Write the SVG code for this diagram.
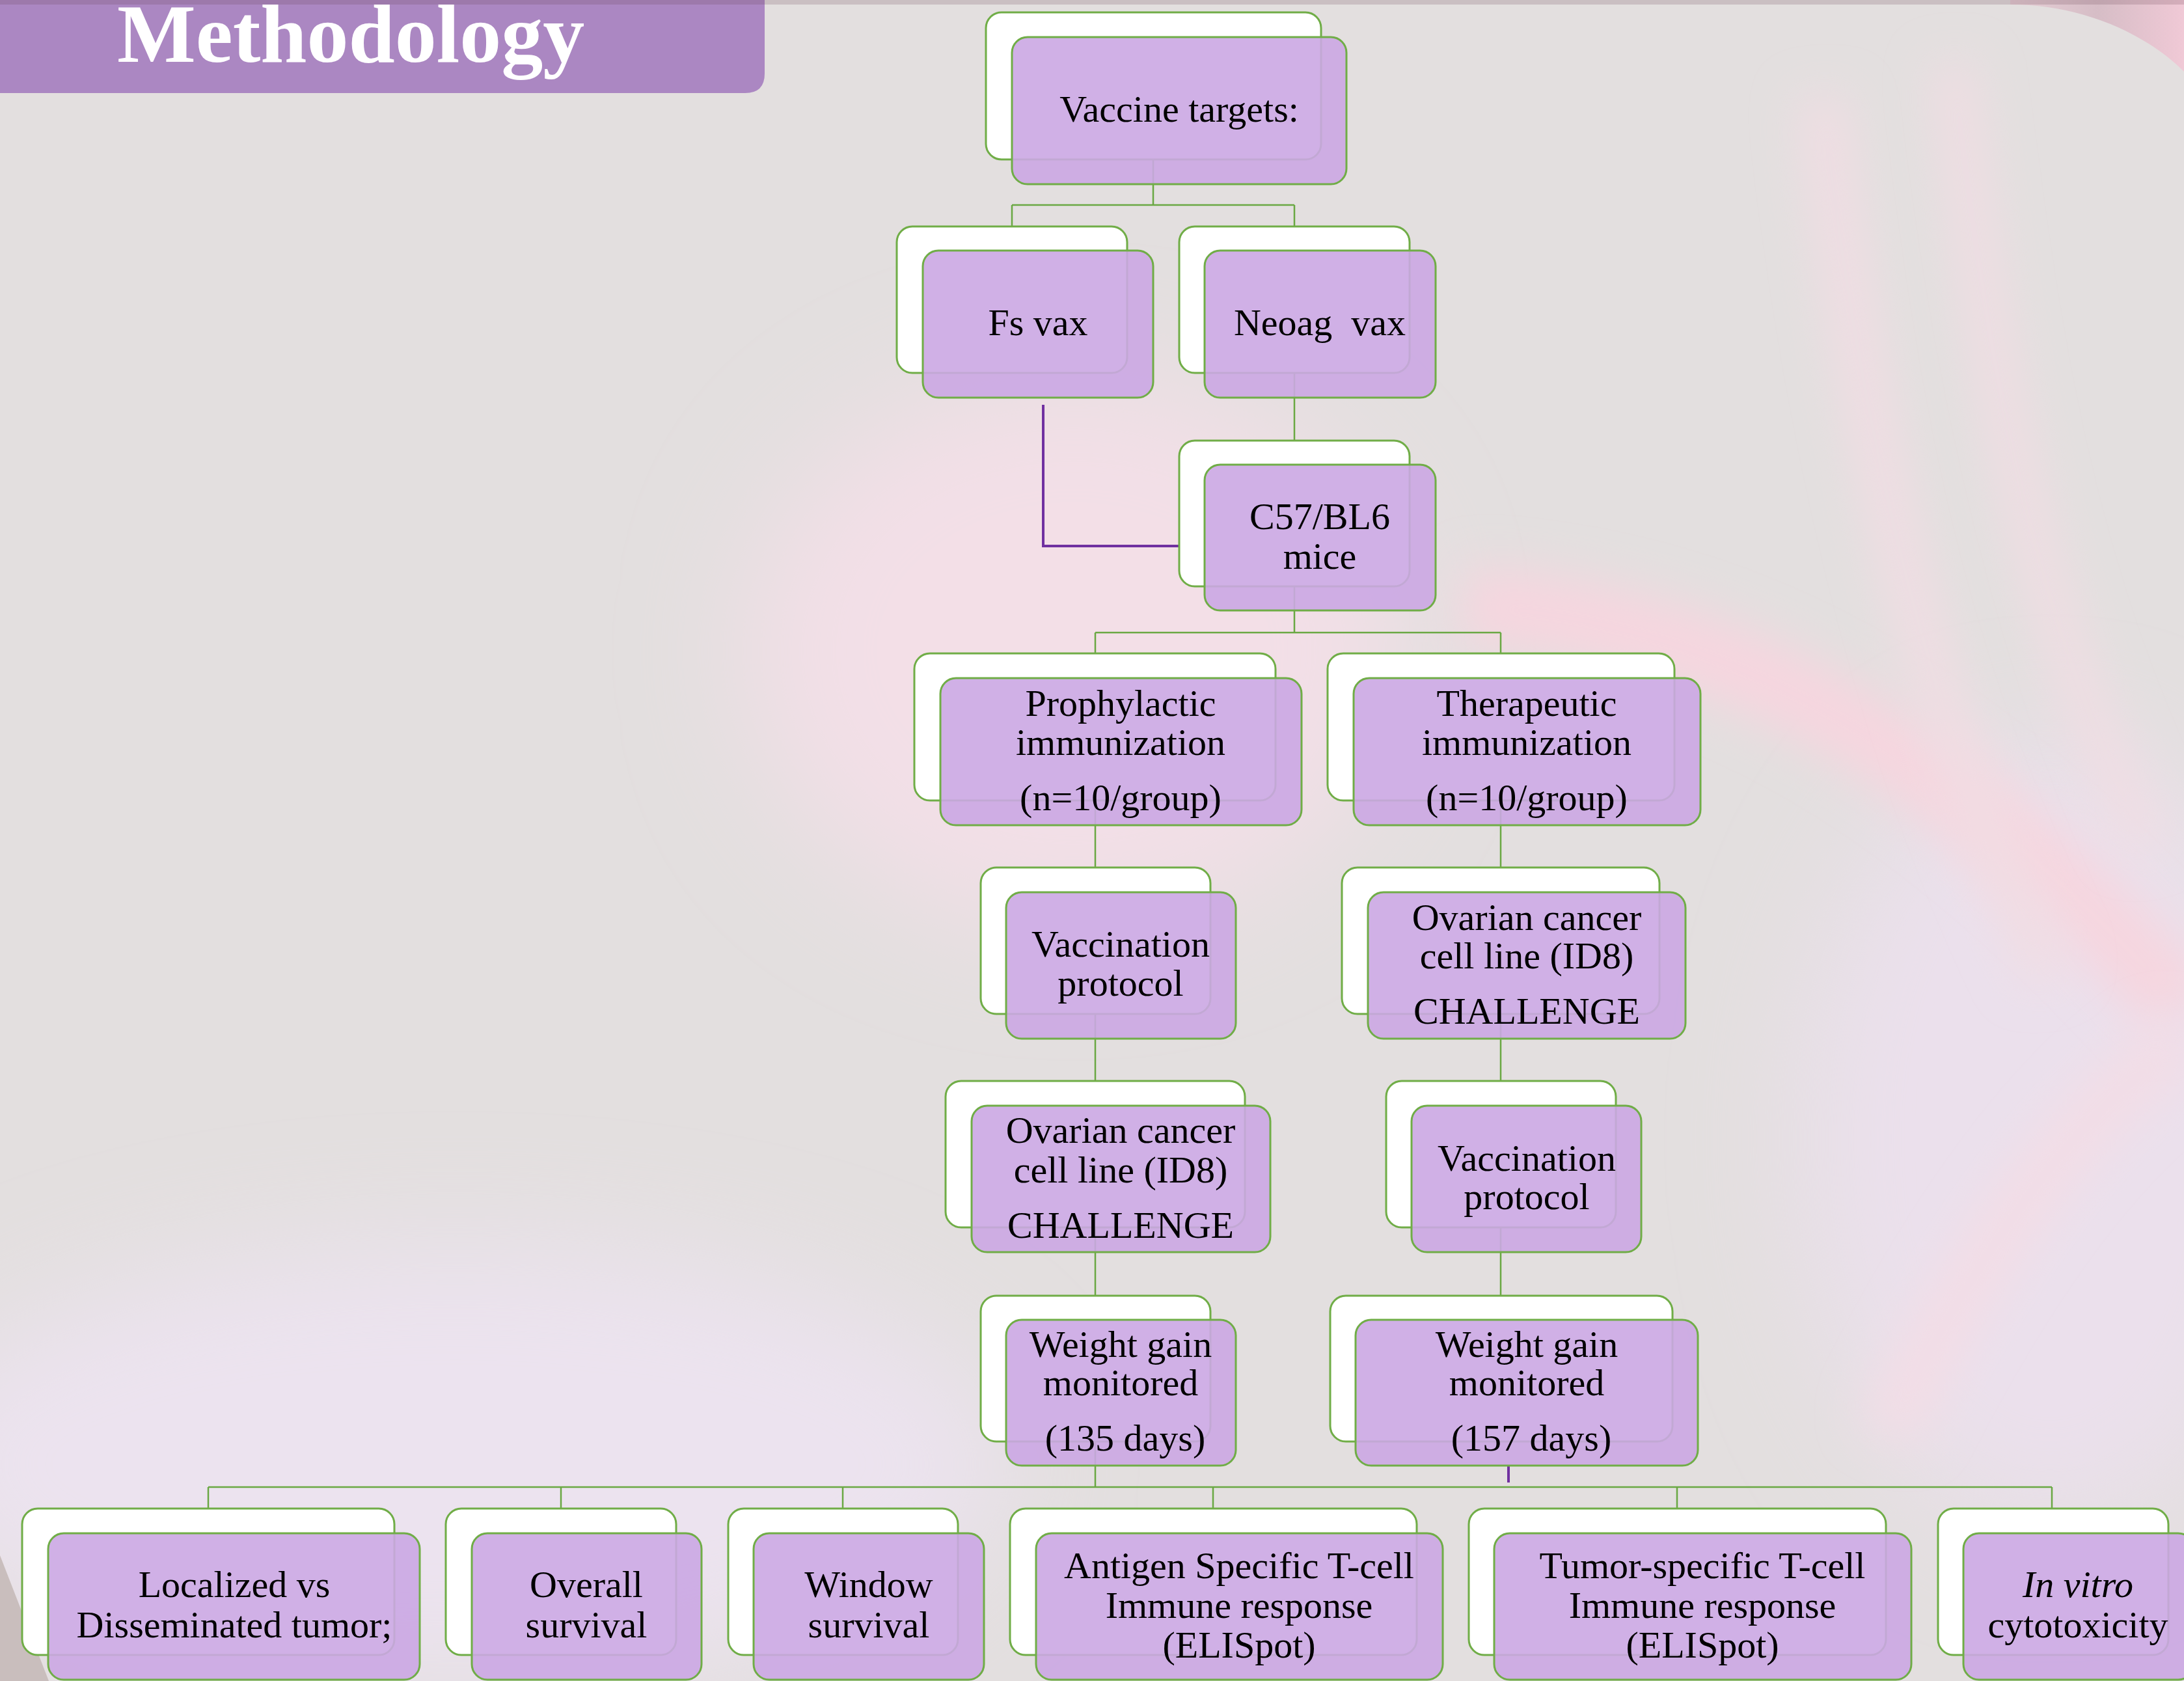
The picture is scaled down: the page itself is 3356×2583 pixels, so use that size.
<svg xmlns="http://www.w3.org/2000/svg" width="3356" height="2583" viewBox="0 0 3356 2583">
<defs>
<style>
.back{fill:#ffffff;stroke:#70ad47;stroke-width:3}
.front{fill:#cba7e3;fill-opacity:0.9;stroke:#70ad47;stroke-width:3}
.t{font-family:"Liberation Serif","Times New Roman",serif;font-size:58px;fill:#000;text-anchor:middle;white-space:pre}
.conn{fill:none;stroke:#6aa843;stroke-width:2.5}
.pconn{fill:none;stroke:#7030a0;stroke-width:4}
</style>
<filter id="blur" x="-50%" y="-50%" width="200%" height="200%"><feGaussianBlur stdDeviation="90"/></filter>
<filter id="blur2" x="-50%" y="-50%" width="200%" height="200%"><feGaussianBlur stdDeviation="35"/></filter>
<linearGradient id="corner" x1="0" y1="0" x2="1" y2="0">
<stop offset="0" stop-color="#e6cfd6"/><stop offset="0.5" stop-color="#d6bdc6"/><stop offset="1" stop-color="#f0c9d6"/>
</linearGradient>
</defs>

<!-- background -->
<rect x="0" y="0" width="3356" height="2583" fill="#e3dfdf"/>
<g id="background-glow">
<ellipse cx="1650" cy="1000" rx="500" ry="420" fill="#f3dfe7" filter="url(#blur)"/>
<ellipse cx="700" cy="2250" rx="850" ry="330" fill="#ece3ef" filter="url(#blur)"/>
<ellipse cx="3150" cy="1750" rx="380" ry="600" fill="#ebe0ec" filter="url(#blur)"/>
<path d="M2250,930 C2600,950 2950,1100 3356,1550" stroke="#f6d6df" stroke-width="120" fill="none" filter="url(#blur2)"/>
<path d="M2800,150 C2850,600 2950,1100 3150,1500" stroke="#f1dde3" stroke-width="70" fill="none" filter="url(#blur2)"/>
<path d="M3000,100 C3050,500 3100,900 3300,1300" stroke="#f1dde3" stroke-width="60" fill="none" filter="url(#blur2)"/>
<path d="M2900,2200 C3050,1900 3200,1700 3356,1600" stroke="#f3dde6" stroke-width="90" fill="none" filter="url(#blur2)"/>
</g>
<path d="M3089,7 C3190,7 3290,45 3356,110 V0 H3089 Z" fill="url(#corner)"/>
<polygon points="0,2390 75,2583 0,2583" fill="#c9bebd"/>

<!-- title -->
<g id="title">
<path d="M0,0 H1175 V113 Q1175,143 1145,143 H0 Z" fill="#ab87c2"/>
<text x="180" y="95" font-family="'Liberation Serif','Times New Roman',serif" font-size="128" font-weight="bold" fill="#ffffff">Methodology</text>
</g>
<rect x="0" y="0" width="3356" height="7" fill="#6b3f4e" fill-opacity="0.2"/>

<!-- connectors -->
<g id="connectors">
<path class="conn" d="M1772,245 V315 M1555,315 H1989 M1555,315 V348 M1989,315 V348"/>
<path class="conn" d="M1989,573 V677"/>
<path class="conn" d="M1989,901 V972 M1683,972 H2306 M1683,972 V1004 M2306,972 V1004"/>
<path class="conn" d="M1683,1230 V1333 M1683,1558 V1661 M1683,1886 V1991 M1683,2215 V2285"/>
<path class="conn" d="M2306,1230 V1333 M2306,1558 V1661 M2306,1886 V1991"/>
<path class="conn" d="M320,2285 H3153" stroke-width="3.5"/>
<path class="conn" d="M320,2285 V2318 M862,2285 V2318 M1295,2285 V2318 M1864,2285 V2318 M2577,2285 V2318 M3153,2285 V2318"/>
<path class="pconn" d="M1603,622 V839 H1823"/>
<path class="pconn" d="M2318,2252 V2278"/>
</g>

<!-- nodes -->
<g id="n-vaccine-targets">
<rect class="back" x="1515" y="19" width="515" height="226" rx="24"/>
<rect class="front" x="1555" y="57" width="514" height="226" rx="24"/>
<text class="t" x="1812" y="187">Vaccine targets:</text>
</g>
<g id="n-fs-vax">
<rect class="back" x="1378" y="348" width="354" height="225" rx="24"/>
<rect class="front" x="1418" y="385" width="354" height="226" rx="24"/>
<text class="t" x="1595" y="515">Fs vax</text>
</g>
<g id="n-neoag-vax">
<rect class="back" x="1812" y="348" width="354" height="225" rx="24"/>
<rect class="front" x="1851" y="385" width="355" height="226" rx="24"/>
<text class="t" x="2028" y="515">Neoag  vax</text>
</g>
<g id="n-c57">
<rect class="back" x="1812" y="677" width="354" height="224" rx="24"/>
<rect class="front" x="1851" y="714" width="355" height="224" rx="24"/>
<text class="t" x="2028" y="813">C57/BL6</text>
<text class="t" x="2028" y="874">mice</text>
</g>
<g id="n-prophylactic">
<rect class="back" x="1405" y="1004" width="555" height="226" rx="24"/>
<rect class="front" x="1445" y="1042" width="555" height="226" rx="24"/>
<text class="t" x="1722" y="1100">Prophylactic</text>
<text class="t" x="1722" y="1160">immunization</text>
<text class="t" x="1722" y="1245">(n=10/group)</text>
</g>
<g id="n-therapeutic">
<rect class="back" x="2040" y="1004" width="533" height="226" rx="24"/>
<rect class="front" x="2080" y="1042" width="533" height="226" rx="24"/>
<text class="t" x="2346" y="1100">Therapeutic</text>
<text class="t" x="2346" y="1160">immunization</text>
<text class="t" x="2346" y="1245">(n=10/group)</text>
</g>
<g id="n-vaccination-left">
<rect class="back" x="1507" y="1333" width="353" height="225" rx="24"/>
<rect class="front" x="1546" y="1371" width="353" height="225" rx="24"/>
<text class="t" x="1722" y="1470">Vaccination</text>
<text class="t" x="1722" y="1530">protocol</text>
</g>
<g id="n-ovarian-right">
<rect class="back" x="2062" y="1333" width="488" height="225" rx="24"/>
<rect class="front" x="2102" y="1371" width="488" height="225" rx="24"/>
<text class="t" x="2346" y="1429">Ovarian cancer</text>
<text class="t" x="2346" y="1488">cell line (ID8)</text>
<text class="t" x="2346" y="1573">CHALLENGE</text>
</g>
<g id="n-ovarian-left">
<rect class="back" x="1453" y="1661" width="460" height="225" rx="24"/>
<rect class="front" x="1493" y="1699" width="459" height="225" rx="24"/>
<text class="t" x="1722" y="1756">Ovarian cancer</text>
<text class="t" x="1722" y="1817">cell line (ID8)</text>
<text class="t" x="1722" y="1902">CHALLENGE</text>
</g>
<g id="n-vaccination-right">
<rect class="back" x="2130" y="1661" width="353" height="225" rx="24"/>
<rect class="front" x="2169" y="1699" width="353" height="225" rx="24"/>
<text class="t" x="2346" y="1799">Vaccination</text>
<text class="t" x="2346" y="1858">protocol</text>
</g>
<g id="n-weight-left">
<rect class="back" x="1507" y="1991" width="353" height="224" rx="24"/>
<rect class="front" x="1546" y="2028" width="353" height="224" rx="24"/>
<text class="t" x="1722" y="2085">Weight gain</text>
<text class="t" x="1722" y="2144">monitored</text>
<text class="t" x="1729" y="2229">(135 days)</text>
</g>
<g id="n-weight-right">
<rect class="back" x="2044" y="1991" width="526" height="224" rx="24"/>
<rect class="front" x="2083" y="2028" width="526" height="224" rx="24"/>
<text class="t" x="2346" y="2085">Weight gain</text>
<text class="t" x="2346" y="2144">monitored</text>
<text class="t" x="2353" y="2229">(157 days)</text>
</g>
<g id="n-localized">
<rect class="back" x="34" y="2318" width="572" height="225" rx="24"/>
<rect class="front" x="74" y="2356" width="571" height="225" rx="24"/>
<text class="t" x="360" y="2454">Localized vs</text>
<text class="t" x="360" y="2516">Disseminated tumor;</text>
</g>
<g id="n-overall">
<rect class="back" x="685" y="2318" width="354" height="225" rx="24"/>
<rect class="front" x="725" y="2356" width="353" height="225" rx="24"/>
<text class="t" x="901" y="2454">Overall</text>
<text class="t" x="901" y="2516">survival</text>
</g>
<g id="n-window">
<rect class="back" x="1119" y="2318" width="353" height="225" rx="24"/>
<rect class="front" x="1158" y="2356" width="354" height="225" rx="24"/>
<text class="t" x="1335" y="2454">Window</text>
<text class="t" x="1335" y="2516">survival</text>
</g>
<g id="n-antigen">
<rect class="back" x="1552" y="2318" width="625" height="225" rx="24"/>
<rect class="front" x="1592" y="2356" width="625" height="225" rx="24"/>
<text class="t" x="1904" y="2425">Antigen Specific T-cell</text>
<text class="t" x="1904" y="2486">Immune response</text>
<text class="t" x="1904" y="2547">(ELISpot)</text>
</g>
<g id="n-tumor">
<rect class="back" x="2257" y="2318" width="641" height="225" rx="24"/>
<rect class="front" x="2296" y="2356" width="641" height="225" rx="24"/>
<text class="t" x="2616" y="2425">Tumor-specific T-cell</text>
<text class="t" x="2616" y="2486">Immune response</text>
<text class="t" x="2616" y="2547">(ELISpot)</text>
</g>
<g id="n-invitro">
<rect class="back" x="2978" y="2318" width="354" height="225" rx="24"/>
<rect class="front" x="3017" y="2356" width="354" height="225" rx="24"/>
<text class="t" x="3193" y="2454" font-style="italic">In vitro</text>
<text class="t" x="3193" y="2516">cytotoxicity</text>
</g>
</svg>
